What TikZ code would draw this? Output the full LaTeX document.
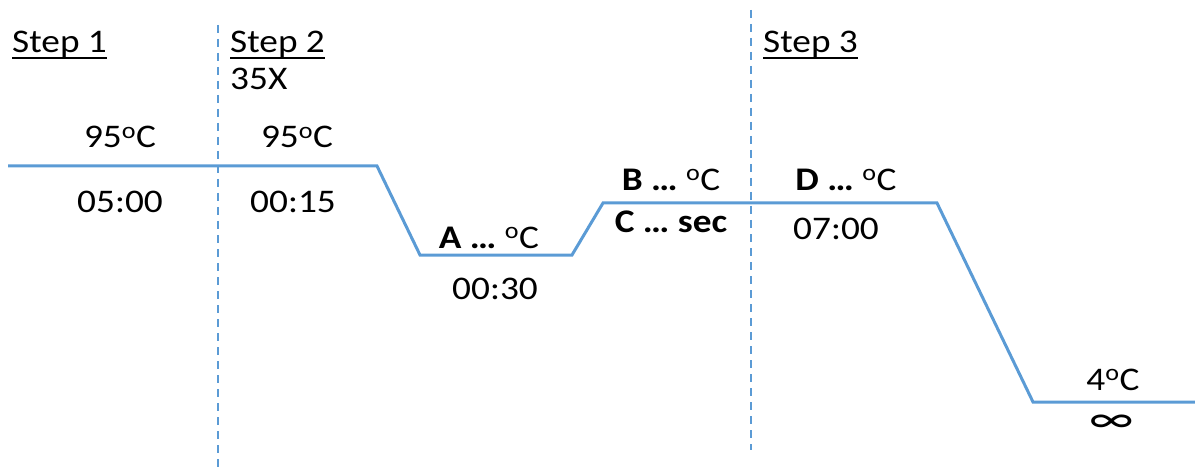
\documentclass[tikz,border=0pt]{standalone}
\usepackage{fontspec}
\usepackage{graphicx}
\setmainfont{Carlito}[FakeStretch=1.13]
\definecolor{pcrblue}{HTML}{5B9BD5}
\newcommand{\degC}{\textsuperscript{o}C}
\newcommand{\ulbl}[1]{\setbox0\hbox{#1}\rlap{\rule[-6pt]{\wd0}{2pt}}\box0}
\begin{document}
\begin{tikzpicture}[x=1pt,y=-1pt,
  profile/.style={draw=pcrblue,line width=3pt,line join=miter},
  divider/.style={draw=pcrblue,line width=2pt,dash pattern=on 8pt off 6pt},
  lbl/.style={inner sep=0pt,anchor=base,font=\fontsize{33}{40}\selectfont},
  steplbl/.style={lbl,anchor=base west}]
\useasboundingbox (0,0) rectangle (1195,468);
% dividers
\coordinate (d1t) at (218,25); \coordinate (d1b) at (218,468);
\coordinate (d2t) at (751,10); \coordinate (d2b) at (751,450);
\draw[divider] (d1t) -- (d1b);
\draw[divider] (d2t) -- (d2b);
% temperature profile
\coordinate (p0) at (8,166);
\coordinate (p1) at (377,166);
\coordinate (p2) at (420,255);
\coordinate (p3) at (572,255);
\coordinate (p4) at (603,203);
\coordinate (p5) at (937,203);
\coordinate (p6) at (1033,402);
\coordinate (p7) at (1195,402);
\draw[profile] (p0) -- (p1) -- (p2) -- (p3) -- (p4) -- (p5) -- (p6) -- (p7);
% step labels
\node[steplbl] (s1) at (12,53) {\ulbl{Step 1}};
\node[steplbl] (s2) at (230,53) {\ulbl{Step 2}};
\node[steplbl] (rep) at (230,90) {35X};
\node[steplbl] (s3) at (763,53) {\ulbl{Step 3}};
% temperatures and times
\node[lbl] (t1) at (120,148) {95\degC};
\node[lbl] (h1) at (120,213) {05:00};
\node[lbl] (t2) at (297,148) {95\degC};
\node[lbl] (h2) at (293,213) {00:15};
\node[lbl] (t3) at (489,248) {\textbf{A \ldots} \degC};
\node[lbl] (h3) at (495,299) {00:30};
\node[lbl] (t4) at (671,190) {\textbf{B \ldots} \degC};
\node[lbl] (h4) at (671,233) {\textbf{C \ldots\ sec}};
\node[lbl] (t5) at (846,190) {\textbf{D \ldots} \degC};
\node[lbl] (h5) at (836,239) {07:00};
\node[lbl] (t6) at (1113,390) {4\degC};
\node[lbl] (h6) at (1112,432) {\fontsize{40}{44}\selectfont\scalebox{1.15}[1]{∞}};
\end{tikzpicture}
\end{document}
